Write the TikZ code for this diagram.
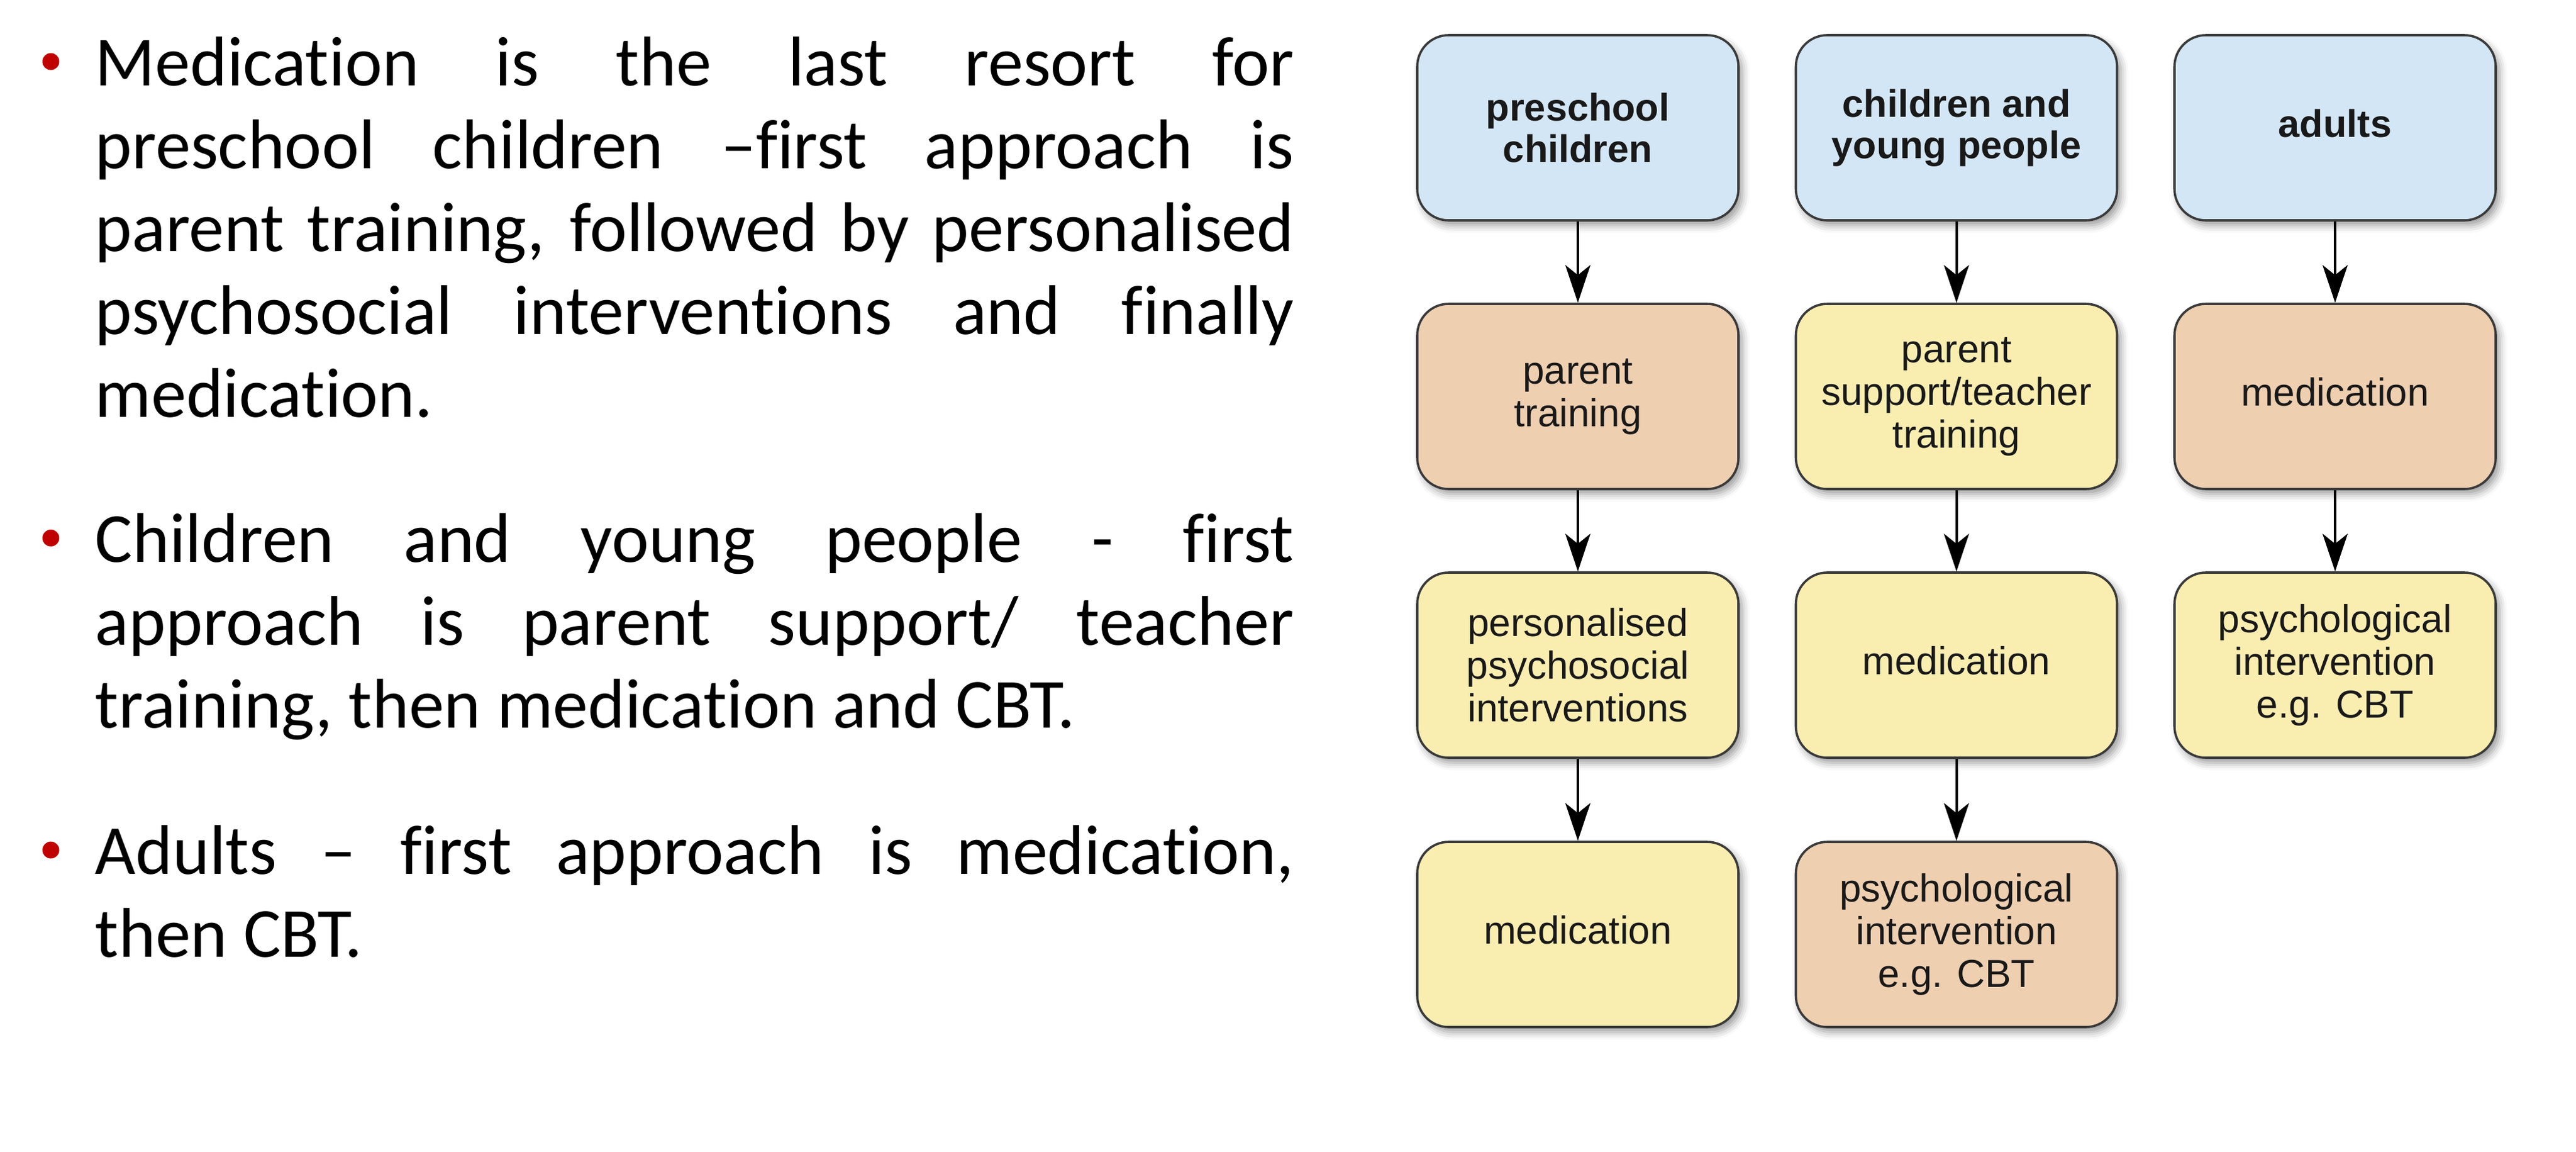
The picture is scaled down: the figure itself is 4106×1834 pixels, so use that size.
\documentclass[tikz,border=0pt]{standalone}
\usepackage{fontspec}
\setmainfont{Carlito}[Ligatures=NoCommon]
\newfontfamily\boxfont{Liberation Sans}
\usetikzlibrary{arrows.meta,shadows.blur}
\definecolor{bluefill}{HTML}{D3E6F5}
\definecolor{peachfill}{HTML}{EECFB0}
\definecolor{yellowfill}{HTML}{FAEDB0}
\definecolor{bulletred}{HTML}{C00000}
\definecolor{edgegray}{HTML}{3A3A3A}
\tolerance=10000
\hyphenpenalty=10000
\exhyphenpenalty=10000
\begin{document}
\begin{tikzpicture}[x=0.25pt,y=-0.25pt,
  flowbox/.style={draw=edgegray, line width=0.9pt, rounded corners=12.5pt,
    minimum width=128pt, minimum height=73.75pt, inner sep=0pt, align=center,
    text=black!90,
    font=\boxfont\fontsize{15.5}{17}\selectfont,
    blur shadow={shadow xshift=1.5pt, shadow yshift=-2pt, shadow blur radius=3pt, shadow opacity=40}},
  agebox/.style={flowbox, fill=bluefill, font=\boxfont\bfseries\fontsize{15.3}{16.5}\selectfont},
  peachbox/.style={flowbox, fill=peachfill},
  yellowbox/.style={flowbox, fill=yellowfill},
  oneline/.style={text height=11.3pt, text depth=4pt},
  flowarrow/.style={line width=1pt, -{Stealth[length=15pt, width=10pt, inset=4pt]}},
  bodytext/.style={text width=477.75pt, align=justify, inner sep=0pt,
    font=\fontsize{28}{33}\selectfont, anchor=base west},
  bulletdot/.style={circle, fill=bulletred, inner sep=0pt, minimum size=6.75pt}
]
\useasboundingbox (0,0) rectangle (4106,1834);

% bullet text
\node[bulletdot] (b1) at (81,98) {};
\node[bodytext] (p1) at (151,136) {Medication is the last resort for\linebreak preschool children –first approach is\linebreak parent training, followed by personalised\linebreak psychosocial interventions and finally\linebreak medication.};
\node[bulletdot] (b2) at (81,857) {};
\node[bodytext] (p2) at (151,895) {Children and young people - first\linebreak approach is parent support/ teacher\linebreak training, then medication and CBT.};
\node[bulletdot] (b3) at (81,1354) {};
\node[bodytext] (p3) at (151,1392) {Adults – first approach is medication,\linebreak then CBT.};

% flow boxes
\node[agebox] (a1) at (2515,203.5) {preschool\\children};
\node[agebox] (a2) at (3118.5,203.5) {children and\\young people};
\node[agebox, oneline] (a3) at (3722,203.5) {adults};

\node[peachbox] (b21) at (2515,631.5) {parent\\training};
\node[yellowbox] (b22) at (3118.5,631.5) {parent\\support/teacher\\training};
\node[peachbox, oneline] (b23) at (3722,631.5) {medication};

\node[yellowbox] (c31) at (2515,1059.5) {personalised\\psychosocial\\interventions};
\node[yellowbox, oneline] (c32) at (3118.5,1059.5) {medication};
\node[yellowbox] (c33) at (3722,1059.5) {psychological\\intervention\\e.g. CBT};

\node[yellowbox, oneline] (d41) at (2515,1488.5) {medication};
\node[peachbox] (d42) at (3118.5,1488.5) {psychological\\intervention\\e.g. CBT};

% arrows
\draw[flowarrow] (a1.south) -- (b21.north);
\draw[flowarrow] (a2.south) -- (b22.north);
\draw[flowarrow] (a3.south) -- (b23.north);
\draw[flowarrow] (b21.south) -- (c31.north);
\draw[flowarrow] (b22.south) -- (c32.north);
\draw[flowarrow] (b23.south) -- (c33.north);
\draw[flowarrow] (c31.south) -- (d41.north);
\draw[flowarrow] (c32.south) -- (d42.north);
\end{tikzpicture}
\end{document}
